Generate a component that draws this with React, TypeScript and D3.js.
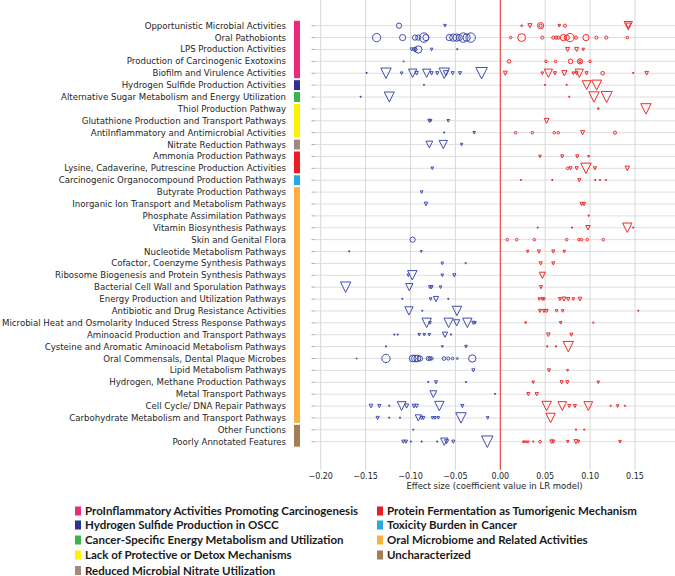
import React from "react";
import * as d3 from "d3";

const categories = [
  "Opportunistic Microbial Activities",
  "Oral Pathobionts",
  "LPS Production Activities",
  "Production of Carcinogenic Exotoxins",
  "Biofilm and Virulence Activities",
  "Hydrogen Sulfide Production Activities",
  "Alternative Sugar Metabolism and Energy Utilization",
  "Thiol Production Pathway",
  "Glutathione Production and Transport Pathways",
  "AntiInflammatory and Antimicrobial Activities",
  "Nitrate Reduction Pathways",
  "Ammonia Production Pathways",
  "Lysine, Cadaverine, Putrescine Production Activities",
  "Carcinogenic Organocompound Production Pathways",
  "Butyrate Production Pathways",
  "Inorganic Ion Transport and Metabolism Pathways",
  "Phosphate Assimilation Pathways",
  "Vitamin Biosynthesis Pathways",
  "Skin and Genital Flora",
  "Nucleotide Metabolism Pathways",
  "Cofactor, Coenzyme Synthesis Pathways",
  "Ribosome Biogenesis and Protein Synthesis Pathways",
  "Bacterial Cell Wall and Sporulation Pathways",
  "Energy Production and Utilization Pathways",
  "Antibiotic and Drug Resistance Activities",
  "Microbial Heat and Osmolarity Induced Stress Response Pathways",
  "Aminoacid Production and Transport Pathways",
  "Cysteine and Aromatic Aminoacid Metabolism Pathways",
  "Oral Commensals, Dental Plaque Microbes",
  "Lipid Metabolism Pathways",
  "Hydrogen, Methane Production Pathways",
  "Metal Transport Pathways",
  "Cell Cycle/ DNA Repair Pathways",
  "Carbohydrate Metabolism and Transport Pathways",
  "Other Functions",
  "Poorly Annotated Features",
];

const groupNames = [
  "ProInflammatory Activities Promoting Carcinogenesis",
  "Hydrogen Sulfide Production in OSCC",
  "Cancer-Specific Energy Metabolism and Utilization",
  "Lack of Protective or Detox Mechanisms",
  "Reduced Microbial Nitrate Utilization",
  "Protein Fermentation as Tumorigenic Mechanism",
  "Toxicity Burden in Cancer",
  "Oral Microbiome and Related Activities",
  "Uncharacterized",
];
const groupColors = ["#ec2a7b", "#2e3192", "#39b54a", "#fff200", "#a3897d", "#ed1c24", "#27aae1", "#fbb040", "#a67c52"];
const groupRanges: [number, number][] = [[0, 4], [5, 5], [6, 6], [7, 9], [10, 10], [11, 12], [13, 13], [14, 33], [34, 35]];

const xTicks = [-0.2, -0.15, -0.1, -0.05, 0, 0.05, 0.1, 0.15];

// [row index, effect size, weight]
const circlePoints: [number, number, number][] = [
  [0, -0.1128, 9], [0, 0.0238, 2], [0, 0.0449, 12], [0, 0.0449, 4], [0, 0.072, 4],
  [1, -0.1377, 20], [1, -0.1088, 12], [1, -0.095, 9], [1, -0.0913, 9], [1, -0.085, 25], [1, -0.0828, 12],
  [1, -0.0568, 12], [1, -0.0523, 16], [1, -0.0486, 16], [1, -0.0457, 12], [1, -0.0412, 25], [1, -0.0375, 16], [1, -0.033, 25],
  [1, 0.0115, 3], [1, 0.0238, 18], [1, 0.0468, 4], [1, 0.059, 4], [1, 0.062, 4], [1, 0.0646, 4], [1, 0.0702, 12],
  [1, 0.074, 9], [1, 0.0776, 20], [1, 0.0843, 4], [1, 0.0954, 12], [1, 0.107, 4], [1, 0.118, 4], [1, 0.1414, 3],
  [2, -0.0913, 16], [2, -0.095, 6],
  [3, -0.1076, 1], [3, 0.0097, 5], [3, 0.0509, 3], [3, 0.0616, 3], [3, 0.0783, 7], [3, 0.0887, 9], [3, 0.0887, 3], [3, 0.0999, 3],
  [4, 0.114, 5],
  [9, 0.0171, 3], [9, 0.0356, 3], [9, 0.0601, 3], [9, 0.0646, 3], [9, 0.1277, 4],
  [12, 0.075, 3],
  [18, -0.0976, 9], [18, 0.0078, 3], [18, 0.0182, 3], [18, 0.0379, 3], [18, 0.0739, 3], [18, 0.0876, 3], [18, 0.0906, 3], [18, 0.0969, 3], [18, 0.1147, 3],
  [28, -0.16, 1], [28, -0.1273, 20], [28, -0.0976, 14], [28, -0.095, 14], [28, -0.0924, 14], [28, -0.0895, 9], [28, -0.0802, 6],
  [28, -0.0783, 5], [28, -0.0765, 4], [28, -0.0627, 5], [28, -0.0579, 4], [28, -0.0531, 3], [28, -0.0479, 2], [28, -0.0312, 16],
  [35, 0.0256, 2], [35, 0.0274, 2], [35, 0.0293, 2], [35, 0.0312, 2], [35, 0.0442, 3],
];

const trianglePoints: [number, number, number][] = [
  [0, -0.0616, 3], [0, 0.033, 6], [0, 0.0657, 3], [0, 0.1425, 20], [0, 0.1425, 9],
  [2, -0.0987, 4], [2, -0.095, 4], [2, -0.0765, 3], [2, -0.0479, 1], [2, 0.075, 6], [2, 0.085, 6], [2, 0.0924, 3],
  [4, -0.1489, 1], [4, -0.1273, 30], [4, -0.1099, 3], [4, -0.0976, 20], [4, -0.0932, 5], [4, -0.082, 20], [4, -0.0765, 4],
  [4, -0.0702, 4], [4, -0.0624, 30], [4, -0.0605, 9], [4, -0.0531, 4], [4, -0.0449, 4], [4, -0.0208, 36],
  [4, 0.0056, 6], [4, 0.0468, 3], [4, 0.0535, 20], [4, 0.0609, 4], [4, 0.0713, 9], [4, 0.0813, 3], [4, 0.085, 4],
  [4, 0.088, 20], [4, 0.0961, 4], [4, 0.148, 1], [4, 0.163, 5],
  [5, -0.085, 1], [5, 0.0497, 1], [5, 0.0739, 1], [5, 0.0961, 22], [5, 0.1073, 28],
  [6, -0.1555, 1], [6, -0.1236, 28], [6, 0.0768, 1], [6, 0.1043, 30], [6, 0.1184, 34],
  [7, 0.1091, 2], [7, 0.1622, 30],
  [8, -0.079, 4], [8, -0.0776, 3], [8, -0.0579, 3], [8, 0.0516, 8],
  [9, -0.0624, 1], [9, -0.029, 3], [9, 0.0917, 6],
  [10, -0.079, 14], [10, -0.0635, 20], [10, -0.0431, 3],
  [11, 0.0442, 3], [11, 0.069, 4], [11, 0.0857, 4], [11, 0.0984, 2],
  [12, -0.0757, 3], [12, 0.0783, 4], [12, 0.085, 4], [12, 0.0954, 30], [12, 0.1054, 4], [12, 0.1414, 7],
  [13, 0.023, 1], [13, 0.0579, 1], [13, 0.088, 4], [13, 0.1058, 1], [13, 0.111, 1], [13, 0.1177, 0.5],
  [14, -0.0876, 3],
  [15, -0.0828, 5], [15, 0.0906, 4], [15, 0.0932, 4],
  [16, 0.0984, 1.5],
  [17, 0.0416, 1], [17, 0.0798, 1], [17, 0.0976, 7], [17, 0.1414, 25], [17, 0.148, 0.5],
  [19, -0.1682, 0.5], [19, -0.088, 2], [19, 0.0304, 3], [19, 0.043, 4], [19, 0.059, 4], [19, 0.0713, 3],
  [20, -0.0646, 3], [20, -0.0386, 1], [20, 0.0449, 4], [20, 0.059, 4],
  [21, -0.1024, 3], [21, -0.098, 25], [21, -0.0646, 3], [21, -0.0512, 4], [21, 0.0468, 12],
  [22, -0.1722, 30], [22, -0.1013, 16], [22, -0.0783, 4], [22, -0.0765, 4], [22, -0.0665, 3], [22, 0.0453, 4],
  [23, -0.1091, 1], [23, -0.0776, 3], [23, -0.0716, 9], [23, -0.0579, 1], [23, 0.0434, 3], [23, 0.0468, 3], [23, 0.0486, 3],
  [23, 0.0664, 4], [23, 0.0709, 6], [23, 0.0757, 4], [23, 0.0813, 3], [23, 0.0887, 5],
  [24, -0.1017, 20], [24, -0.0869, 1], [24, -0.0483, 25], [24, 0.0442, 4], [24, 0.0486, 4], [24, 0.0516, 4], [24, 0.0627, 3], [24, 0.0694, 3], [24, 0.1537, 1],
  [25, -0.082, 25], [25, -0.0783, 3], [25, -0.0575, 25], [25, -0.0486, 12], [25, -0.0367, 25], [25, -0.03, 4], [25, -0.0282, 3],
  [25, 0.0282, 2], [25, 0.0672, 3], [25, 0.1036, 0.5],
  [26, -0.118, 1], [26, -0.1143, 1], [26, -0.0902, 3], [26, -0.0846, 3], [26, -0.079, 3], [26, -0.0616, 9], [26, -0.0549, 1], [26, 0.0535, 5], [26, 0.0791, 4],
  [27, -0.1273, 0.5], [27, -0.0646, 2], [27, -0.0382, 3], [27, 0.0523, 1.5], [27, 0.062, 1.5], [27, 0.0757, 30],
  [29, -0.03, 4], [29, 0.0542, 4], [29, 0.075, 2],
  [30, -0.0802, 1], [30, -0.0716, 4], [30, -0.0382, 1], [30, 0.0367, 3], [30, 0.0683, 4], [30, 0.0746, 4], [30, 0.1091, 3],
  [31, -0.0746, 14], [31, -0.0059, 0.5], [31, 0.0312, 4], [31, 0.0405, 4],
  [32, -0.144, 5], [32, -0.1347, 4], [32, -0.1236, 1.5], [32, -0.1099, 22], [32, -0.1043, 6], [32, -0.0961, 5], [32, -0.0932, 5],
  [32, -0.0679, 25], [32, -0.0423, 4], [32, 0.0516, 25], [32, 0.069, 22], [32, 0.0768, 4], [32, 0.0831, 4], [32, 0.098, 22],
  [32, 0.1229, 1], [32, 0.1307, 3], [32, 0.1388, 0.5],
  [33, -0.1366, 4], [33, -0.1236, 1], [33, -0.1117, 1], [33, -0.0913, 12], [33, -0.0876, 4], [33, -0.0857, 4], [33, -0.0754, 3],
  [33, -0.0727, 3], [33, -0.069, 3], [33, -0.0438, 30], [33, -0.0141, 3], [33, 0.056, 25],
  [34, -0.0969, 0.5], [34, 0.0843, 1], [34, 0.0935, 1],
  [35, -0.108, 4], [35, -0.105, 4], [35, -0.0995, 1], [35, -0.0876, 1], [35, -0.0702, 1], [35, -0.0624, 16], [35, -0.0598, 6],
  [35, -0.0523, 4], [35, -0.0145, 36], [35, 0.0367, 1], [35, 0.0572, 5], [35, 0.059, 4], [35, 0.075, 3], [35, 0.0843, 6],
  [35, 0.087, 3], [35, 0.1333, 3],
];

const W = 675;
const H = 576;
const BLUE = "#3f4db0";
const RED = "#f02a2a";
const FONT = "DejaVu Sans, sans-serif";

export default function App() {
  const x = d3.scaleLinear().domain([-0.2, 0.15]).range([320.7, 635]);
  const y = d3.scalePoint<string>().domain(categories).range([25.7, 441.7]);
  const size = d3.scaleSqrt().domain([0, 36]).range([0, 12.5]);
  const step = y.step();
  const fmt = d3.format(".2f");
  const plotLeft = 313;
  const plotRight = W;
  const plotTop = 0;
  const plotBottom = 470;

  const tri = (w: number) => {
    const h = w;
    return `M${-w / 2},${-h / 2}L${w / 2},${-h / 2}L0,${h / 2}Z`;
  };

  const legendRows = [511, 525, 540, 555, 570.5];

  return (
    <div style={{ position: "absolute", left: 0, top: 0 }}>
      <svg width={W} height={H} style={{ display: "block", background: "#fff" }}>
        {categories.map((c) => (
          <line key={"hg" + c} x1={plotLeft + 3} x2={plotRight} y1={y(c)} y2={y(c)} stroke="#dedede" strokeWidth={1} />
        ))}
        {xTicks.map((t) => (
          <line key={"vg" + t} x1={x(t)} x2={x(t)} y1={plotTop} y2={plotBottom} stroke="#d8d8d8" strokeWidth={1} />
        ))}
        {categories.map((c) => (
          <line key={"yt" + c} x1={plotLeft - 1.5} x2={plotLeft + 2.5} y1={y(c)} y2={y(c)} stroke="#b0b0b0" strokeWidth={1} />
        ))}
        <line x1={x(0)} x2={x(0)} y1={plotTop} y2={plotBottom} stroke="#f03030" strokeWidth={1} />
        {categories.map((c) => (
          <text key={"yl" + c} x={286} y={y(c)} dy="0.35em" textAnchor="end" fontFamily={FONT} fontSize={8.6} fill="#262626">
            {c}
          </text>
        ))}
        {groupRanges.map(([a, b], i) => (
          <rect
            key={"gb" + i}
            x={294}
            width={6}
            y={(y(categories[a]) as number) - step / 2 + 1}
            height={(y(categories[b]) as number) - (y(categories[a]) as number) + step - 2}
            fill={groupColors[i]}
          />
        ))}
        <g fill="none" strokeWidth={1}>
          {circlePoints.map(([r, v, w], i) => (
            <circle
              key={"c" + i}
              cx={x(v)}
              cy={y(categories[r])}
              r={Math.max(size(w) / 2 - 0.5, 0.6)}
              stroke={v < 0 ? BLUE : RED}
            />
          ))}
          {trianglePoints.map(([r, v, w], i) => (
            <path
              key={"t" + i}
              transform={`translate(${x(v)},${y(categories[r])})`}
              d={tri(Math.max(size(w) - 1, 1.4))}
              stroke={v < 0 ? BLUE : RED}
            />
          ))}
        </g>
        {xTicks.map((t) => (
          <text key={"xl" + t} x={x(t)} y={475.7} dy="0.35em" textAnchor="middle" fontFamily={FONT} fontSize={8} fill="#262626">
            {fmt(t)}
          </text>
        ))}
        <text x={494.5} y={486} dy="0.35em" textAnchor="middle" fontFamily={FONT} fontSize={8.5} fill="#262626">
          Effect size (coefficient value in LR model)
        </text>
        {groupNames.map((g, i) => {
          const col = i < 5 ? 0 : 1;
          const row = i < 5 ? i : i - 5;
          const lx = col === 0 ? 75 : 377;
          const ly = legendRows[row];
          return (
            <g key={"lg" + i}>
              <rect x={lx} y={ly - 4.5} width={6} height={9} fill={groupColors[i]} />
              <text x={lx + 10} y={ly} dy="0.35em" fontFamily="Lato, sans-serif" fontWeight={700} fontSize={11.5} fill="#1a1a1a">
                {g}
              </text>
            </g>
          );
        })}
      </svg>
    </div>
  );
}
